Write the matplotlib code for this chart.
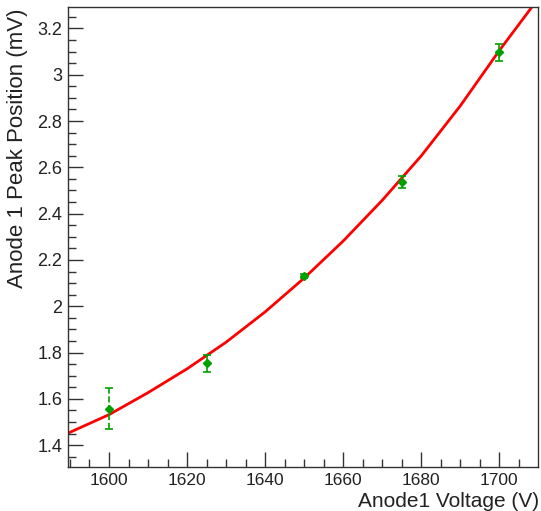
import matplotlib
matplotlib.use("Agg")
import matplotlib.pyplot as plt
from matplotlib.ticker import MultipleLocator

plt.rcParams['font.family'] = ['Liberation Sans', 'DejaVu Sans']

# Measured peak positions with uncertainties
voltage = [1600, 1625, 1650, 1675, 1700]
peak = [1.558, 1.753, 2.132, 2.537, 3.096]
peak_err = [0.090, 0.036, 0.008, 0.027, 0.035]

# Fitted curve sampled along the voltage range
fit_v = [1589.5, 1600, 1610, 1620, 1630, 1640, 1650, 1660, 1670, 1680, 1690, 1700, 1708]
fit_y = [1.452, 1.532, 1.627, 1.730, 1.845, 1.976, 2.122, 2.282, 2.458, 2.650, 2.866, 3.105, 3.285]

x_title = "Anode1 Voltage (V)"
y_title = "Anode 1 Peak Position (mV)"

W, H = 541, 511
fig = plt.figure(figsize=(W / 100, H / 100), dpi=100)
ax = fig.add_axes([68 / W, 1 - 467 / H, (537.7 - 68) / W, (467 - 7.3) / H])

ax.plot(fit_v, fit_y, color='#ff0000', lw=2.0, zorder=2)

green = '#00a000'
for i, (v, p, e) in enumerate(zip(voltage, peak, peak_err)):
    ls = '--' if i == 0 else '-'
    eb = ax.errorbar([v], [p], yerr=[e], fmt='D', color=green, ms=4.5,
                     mec=green, mfc=green, capsize=3, elinewidth=1.2,
                     capthick=1.2, zorder=3)
    for lc in eb[2]:
        lc.set_linestyle(ls)

ax.set_xlim(1589.5, 1709.8)
ax.set_ylim(1.306, 3.291)

ax.xaxis.set_minor_locator(MultipleLocator(5))
ax.yaxis.set_minor_locator(MultipleLocator(0.05))

ax.set_xticks([1600, 1620, 1640, 1660, 1680, 1700])
ax.set_xticklabels(["1600", "1620", "1640", "1660", "1680", "1700"])
ax.set_yticks([1.4, 1.6, 1.8, 2.0, 2.2, 2.4, 2.6, 2.8, 3.0, 3.2])
ax.set_yticklabels(["1.4", "1.6", "1.8", "2", "2.2", "2.4", "2.6", "2.8", "3", "3.2"])

ax.tick_params(which='both', direction='in', top=False, right=False,
               color='#333333', width=1.0, labelsize=13, labelcolor='#222222')
ax.tick_params(which='major', length=11)
ax.tick_params(which='minor', length=6)
ax.tick_params(axis='x', which='major', pad=4.5, labelsize=12.5)
ax.tick_params(axis='y', which='major', pad=4)

for s in ax.spines.values():
    s.set_color('#333333')
    s.set_linewidth(1.0)

fig.text(539 / W, 1 - 507 / H, x_title, ha='right', va='baseline',
         fontsize=15, color='#222222')
fig.text(7 / W, 1 - 8 / H, y_title, ha='left', va='top', rotation=90,
         fontsize=16, color='#222222')

fig.savefig("out.png", dpi=100)
